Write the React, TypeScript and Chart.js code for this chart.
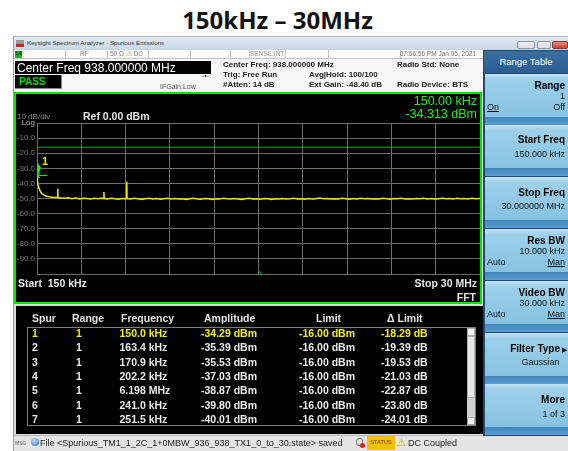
import React, { useEffect, useRef } from 'react';
import { Chart, registerables } from 'chart.js';
Chart.register(...registerables);

// ---------- data ----------
const startMHz = 0.15;
const stopMHz = 30;
const topDbm = 0;
const bottomDbm = -100;
const dbPerDiv = 10;
const xDivisions = 10;
const limitDbm = -16;
const markerFreqMHz = 0.15;
const markerDbm = -34.313;

const freqMHz = [
  0.15, 0.17, 0.2, 0.24, 0.3, 0.38, 0.48, 0.62, 0.8, 1.0, 1.2, 1.4, 1.53, 1.55, 1.57, 1.75,
  2.0, 2.25, 2.5, 2.75, 3.0, 3.25, 3.5, 3.75, 4.0, 4.25, 4.5, 4.64, 4.66, 4.68, 4.9, 5.15,
  5.4, 5.65, 5.9, 6.17, 6.198, 6.22, 6.45, 6.7, 6.95, 7.2, 7.45, 7.7, 7.95, 8.2, 8.45, 8.7,
  8.95, 9.2, 9.45, 9.7, 9.95, 10.2, 10.45, 10.7, 10.95, 11.2, 11.45, 11.7, 11.95, 12.2, 12.45, 12.7,
  12.95, 13.2, 13.45, 13.7, 13.95, 14.2, 14.45, 14.7, 14.95, 15.2, 15.45, 15.7, 15.95, 16.2, 16.45, 16.7,
  16.95, 17.2, 17.45, 17.7, 17.95, 18.2, 18.45, 18.7, 18.95, 19.2, 19.45, 19.7, 19.95, 20.2, 20.45, 20.7,
  20.95, 21.2, 21.45, 21.7, 21.95, 22.2, 22.45, 22.7, 22.95, 23.2, 23.45, 23.7, 23.95, 24.2, 24.45, 24.7,
  24.95, 25.2, 25.45, 25.7, 25.95, 26.2, 26.45, 26.7, 26.95, 27.2, 27.45, 27.7, 27.95, 28.2, 28.45, 28.7,
  28.95, 29.2, 29.45, 29.7, 30.0,
];
const levelDbm = [
  -34.3, -36.8, -39.2, -41.5, -43.6, -45.4, -46.8, -47.8, -48.5, -48.9, -49.2, -49.4, -49.3, -43.5, -49.5, -49.6,
  -49.8, -49.5, -50.1, -49.7, -50.3, -49.8, -50.0, -50.4, -49.9, -50.2, -49.8, -50.0, -45.7, -50.0, -50.3, -49.9,
  -50.2, -50.5, -50.0, -50.2, -38.9, -50.1, -50.4, -49.9, -50.2, -50.6, -50.1, -49.8, -50.3, -50.0, -50.5, -50.2,
  -49.9, -50.3, -50.0, -50.4, -50.1, -50.6, -50.2, -49.9, -50.3, -50.5, -50.0, -50.2, -50.6, -50.1, -50.3, -49.8,
  -50.2, -50.4, -50.0, -50.3, -50.6, -50.2, -49.9, -50.3, -50.1, -50.5, -50.0, -50.2, -50.6, -50.1, -50.3, -50.0,
  -50.4, -50.2, -49.8, -50.3, -50.1, -50.5, -50.0, -50.3, -50.1, -49.7, -50.2, -50.0, -50.4, -50.1, -50.3, -49.9,
  -50.2, -50.5, -50.0, -50.3, -49.8, -50.2, -50.0, -50.4, -50.1, -50.3, -49.9, -50.2, -50.5, -50.0, -50.2, -49.8,
  -50.3, -50.1, -50.4, -50.0, -50.2, -49.9, -50.3, -50.0, -50.4, -50.1, -49.8, -50.2, -50.0, -50.3, -49.9, -50.2,
  -50.0, -50.3, -49.9, -50.1, -50.0,
];

const spurNo = ['1', '2', '3', '4', '5', '6', '7'];
const spurRange = ['1', '1', '1', '1', '1', '1', '1'];
const spurFreq = ['150.0 kHz', '163.4 kHz', '170.9 kHz', '202.2 kHz', '6.198 MHz', '241.0 kHz', '251.5 kHz'];
const spurAmp = ['-34.29 dBm', '-35.39 dBm', '-35.53 dBm', '-37.03 dBm', '-38.87 dBm', '-39.80 dBm', '-40.01 dBm'];
const spurLimit = ['-16.00 dBm', '-16.00 dBm', '-16.00 dBm', '-16.00 dBm', '-16.00 dBm', '-16.00 dBm', '-16.00 dBm'];
const spurDelta = ['-18.29 dB', '-19.39 dB', '-19.53 dB', '-21.03 dB', '-22.87 dB', '-23.80 dB', '-24.01 dB'];
const tableHeaders = ['Spur', 'Range', 'Frequency', 'Amplitude', 'Limit', '\u0394 Limit'];

// ---------- layout helpers ----------
const W = 568;
const H = 451;
const FONT = '"Liberation Sans", Arial, sans-serif';

type TP = {
  x: number; y: number; s: number; c?: string; b?: boolean; a?: 'l' | 'r' | 'c';
  u?: boolean; f?: string; children?: any; z?: number;
};
const T = ({ x, y, s, c = '#000', b = false, a = 'l', u = false, f, children, z = 5 }: TP) => {
  const style: any = {
    position: 'absolute', top: y - s / 2, fontSize: s, lineHeight: s + 'px', color: c,
    fontWeight: b ? 'bold' : 'normal', whiteSpace: 'nowrap', fontFamily: f || FONT,
    textDecoration: u ? 'underline' : 'none', zIndex: z,
  };
  if (a === 'l') style.left = x;
  else if (a === 'r') style.right = W - x;
  else { style.left = x; style.transform = 'translateX(-50%)'; }
  return <div style={style}>{children}</div>;
};
const R = ({ x, y, w, h, bg, st }: { x: number; y: number; w: number; h: number; bg?: string; st?: any }) => (
  <div style={{ position: 'absolute', left: x, top: y, width: w, height: h, background: bg, boxSizing: 'border-box', ...(st || {}) }} />
);

const markerPlugin = {
  id: 'saMarker',
  afterDatasetsDraw(chart: any) {
    const { ctx, scales, chartArea } = chart;
    const px = scales.x.getPixelForValue(markerFreqMHz);
    const py = Math.round(scales.y.getPixelForValue(markerDbm)) + 0.5;
    ctx.save();
    ctx.strokeStyle = '#22dd22';
    ctx.lineWidth = 1;
    ctx.beginPath();
    ctx.moveTo(px, py); ctx.lineTo(px + 10, py);
    ctx.moveTo(px, py); ctx.lineTo(px + 3, py - 2.5);
    ctx.moveTo(px, py); ctx.lineTo(px + 3, py + 2.5);
    ctx.stroke();
    ctx.fillStyle = '#22e022';
    ctx.beginPath();
    ctx.moveTo(px, py - 14);
    ctx.lineTo(px + 4, py - 7.5);
    ctx.lineTo(px, py + 2);
    ctx.closePath();
    ctx.fill();
    ctx.fillStyle = '#e6e600';
    ctx.font = 'bold 11px ' + FONT;
    ctx.textBaseline = 'middle';
    ctx.fillText('1', px + 5, py - 14);
    // center indicator caret
    const cx = Math.round((chartArea.left + chartArea.right) / 2) + 0.5;
    ctx.strokeStyle = '#22c022';
    ctx.beginPath();
    ctx.moveTo(cx - 2.5, chartArea.bottom + 1);
    ctx.lineTo(cx, chartArea.bottom - 2.5);
    ctx.lineTo(cx + 2.5, chartArea.bottom + 1);
    ctx.stroke();
    ctx.restore();
  },
};

function Spectrum() {
  const ref = useRef<HTMLCanvasElement>(null);
  useEffect(() => {
    const canvas = ref.current!;
    const grid = '#6c6c6c';
    const chart = new Chart(canvas, {
      type: 'line',
      data: {
        datasets: [
          {
            data: freqMHz.map((f, i) => ({ x: f, y: levelDbm[i] })),
            borderColor: '#e8e800', borderWidth: 1.5, pointRadius: 0, tension: 0,
          },
          {
            data: [{ x: startMHz, y: limitDbm }, { x: stopMHz, y: limitDbm }],
            borderColor: '#22a622', borderWidth: 1, pointRadius: 0,
          },
        ],
      },
      options: {
        animation: false,
        responsive: false,
        maintainAspectRatio: false,
        layout: { padding: { left: 0, top: 29, right: 2, bottom: 29 } },
        plugins: { legend: { display: false }, tooltip: { enabled: false } },
        scales: {
          x: {
            type: 'linear', min: startMHz, max: stopMHz,
            afterBuildTicks: (s: any) => {
              s.ticks = Array.from({ length: xDivisions + 1 }, (_, i) => ({
                value: startMHz + ((stopMHz - startMHz) * i) / xDivisions,
              }));
            },
            afterFit: (s: any) => { s.height = 0; },
            ticks: { display: false },
            grid: { color: grid, drawTicks: false },
            border: { color: grid },
          },
          y: {
            min: bottomDbm, max: topDbm,
            afterFit: (s: any) => { s.width = 21; },
            ticks: {
              stepSize: dbPerDiv, padding: 2,
              color: (c: any) => (c.tick && c.tick.value === topDbm ? '#b8b8b8' : '#7c7c7c'),
              font: { size: 8, family: FONT },
              callback: (v: any) => (v === topDbm ? 'Log' : v === bottomDbm ? '' : Number(v).toFixed(1)),
            },
            grid: { color: grid, drawTicks: false },
            border: { color: grid },
          },
        },
      },
      plugins: [markerPlugin],
    } as any);
    return () => chart.destroy();
  }, []);
  return (
    <canvas
      ref={ref}
      width={466}
      height={209}
      style={{ position: 'absolute', left: 16, top: 94, width: 466, height: 209, zIndex: 2 }}
    />
  );
}

const keyTops = [73.5, 125.3, 177.1, 228.9, 280.7, 332.5, 384.3];

export default function App() {
  const colX = [32, 76, 119.5, 201, 299, 381];
  const headX = [32, 72, 121, 204, 316, 387];
  return (
    <div style={{ position: 'fixed', left: 0, top: 0, width: W, height: H, overflow: 'hidden', background: '#fff', fontFamily: FONT }}>
      {/* page title */}
      <T x={277.5} y={19.5} s={24} b a="c" c="#111" f='"Open Sans", "Noto Sans", sans-serif'>150kHz – 30MHz</T>

      {/* window */}
      <R x={13} y={36} w={555} h={415} bg="#dcdcdc" st={{ borderLeft: '1px solid #9a9a9a' }} />
      <R x={13} y={36} w={555} h={14} bg="linear-gradient(#e2ebf5,#c7d6e7)" st={{ borderLeft: '1px solid #9a9a9a', borderTop: '1px solid #a8b8c8' }} />
      <R x={16} y={40} w={8} h={7} bg="linear-gradient(#9a9a9a 0 55%, #d02020 55% 100%)" />
      <T x={27} y={43.5} s={6.2} c="#333">Keysight Spectrum Analyzer - Spurious Emissions</T>
      <R x={517} y={41} w={18} h={8} bg="linear-gradient(#f2f2f2,#d6dde6)" st={{ border: '1px solid #8896a8', borderRadius: 2 }} />
      <R x={537} y={41} w={14} h={8} bg="linear-gradient(#f2f2f2,#d6dde6)" st={{ border: '1px solid #8896a8', borderRadius: 2 }} />
      <R x={552} y={41} w={16} h={8} bg="linear-gradient(#e88a7a,#c8473a)" st={{ border: '1px solid #8a3a30', borderRadius: 2 }} />

      {/* status row */}
      <R x={14} y={50} w={469} h={9} bg="#fbfbfb" st={{ borderBottom: '1px solid #c4c4c4' }} />
      {[65, 107, 148, 190, 230, 249, 285, 328, 400].map((sx) => (
        <R key={sx} x={sx} y={50} w={1} h={9} bg="#c8c8c8" />
      ))}
      <R x={15} y={51} w={7} h={7} bg="#19b219" />
      <T x={15.5} y={54.5} s={4.5} c="#003300" b>LXI</T>
      <T x={80} y={54.5} s={6.5} c="#888">RF</T>
      <T x={110} y={54.5} s={6.5} c="#888">50 Ω <span style={{ color: '#c9a000' }}>⚠</span> DC</T>
      <T x={250} y={54.5} s={6.5} c="#999">SENSE:INT</T>
      <T x={476} y={54.5} s={6.5} c="#777" a="r">07:56:56 PM Jan 05, 2021</T>

      {/* info area */}
      <R x={14} y={59} w={469} h={33} bg="#f7f7f7" />
      <R x={15} y={61} w={196} h={13} bg="#000" />
      <T x={17} y={67.5} s={12} c="#fff">Center Freq 938.000000 MHz</T>
      <R x={15} y={75} w={47} h={14} bg="#000" st={{ borderRight: '1px solid #888', borderBottom: '1px solid #888' }} />
      <T x={19} y={82} s={10} b c="#00dd00">PASS</T>
      <T x={160} y={86} s={7} c="#555">IFGain:Low</T>
      <T x={202} y={75.5} s={7} c="#333">-•-</T>
      <T x={223} y={65} s={8} b c="#222">Center Freq: 938.000000 MHz</T>
      <T x={223} y={75} s={8} b c="#222">Trig: Free Run</T>
      <T x={223} y={84.5} s={8} b c="#222">#Atten: 14 dB</T>
      <T x={309} y={75} s={8} b c="#222">Avg|Hold: 100/100</T>
      <T x={309} y={84.5} s={8} b c="#222">Ext Gain: -48.40 dB</T>
      <T x={397} y={65} s={8} b c="#222">Radio Std: None</T>
      <T x={397} y={84.5} s={8} b c="#222">Radio Device: BTS</T>

      {/* plot panel */}
      <R x={14} y={92} w={468} h={212} bg="#000" />
      <Spectrum />
      <div style={{ position: 'absolute', left: 14, top: 92, width: 468, height: 212, border: '2px solid #00e600', boxSizing: 'border-box', zIndex: 3 }} />
      <T x={17} y={117} s={8} c="#8a8a8a">10 dB/div</T>
      <T x={83} y={116} s={10.5} b c="#e6e6e6">Ref 0.00 dBm</T>
      <T x={477} y={101.5} s={12.5} c="#22ee22" a="r">150.00 kHz</T>
      <T x={477} y={114} s={12.5} c="#22ee22" a="r">-34.313 dBm</T>
      <T x={18} y={283} s={10.5} b c="#e6e6e6">Start&nbsp;&nbsp;150 kHz</T>
      <T x={477} y={283} s={10.5} b c="#e6e6e6" a="r">Stop 30 MHz</T>
      <T x={476} y={297} s={10.5} b c="#e6e6e6" a="r">FFT</T>

      {/* spur table */}
      <R x={16} y={306} w={467} h={128} bg="#000" />
      {tableHeaders.map((h, i) => (
        <T key={h} x={headX[i]} y={318} s={10.5} b c="#e4e4e4">{h}</T>
      ))}
      <R x={27} y={326.5} w={449} h={99} st={{ border: '1px solid #7c7c7c' }} />
      <R x={467} y={327.5} w={8} h={97} bg="#cfcfcf" />
      <R x={467} y={327.5} w={8} h={8} bg="#f2f2f2" st={{ border: '1px solid #aaa' }} />
      <R x={467} y={416.5} w={8} h={8} bg="#f2f2f2" st={{ border: '1px solid #aaa' }} />
      <R x={467} y={336} w={8} h={62} bg="#e6e6e6" st={{ border: '1px solid #b4b4b4' }} />
      {spurNo.map((n, i) => {
        const y = 333.3 + i * 14.33;
        const c = i === 0 ? '#f4f400' : '#ececec';
        const vals = [n, spurRange[i], spurFreq[i], spurAmp[i], spurLimit[i], spurDelta[i]];
        return vals.map((v, j) => (
          <T key={i + '-' + j} x={colX[j]} y={y} s={10.5} b c={c}>{v}</T>
        ));
      })}

      {/* bottom status bar */}
      <R x={14} y={435} w={554} h={16} bg="#e4e4e4" st={{ borderTop: '1px solid #b8b8b8' }} />
      <T x={15} y={443} s={5} c="#666">MSG</T>
      <div style={{ position: 'absolute', left: 31, top: 438, width: 8, height: 8, borderRadius: 4, background: 'radial-gradient(circle at 40% 35%, #bfe0ff, #2f6fc0)', zIndex: 5 }} />
      <T x={40} y={443} s={9} c="#222">File &lt;Spurious_TM1_1_2C_1+0MBW_936_938_TX1_0_to_30.state&gt; saved</T>
      <div style={{ position: 'absolute', left: 356, top: 438, width: 7, height: 8, border: '1px solid #777', borderRadius: 3, boxSizing: 'border-box', zIndex: 5 }} />
      <div style={{ position: 'absolute', left: 360, top: 443, width: 5, height: 5, borderRadius: 3, background: '#e02020', zIndex: 6 }} />
      <R x={367} y={436} w={28} h={14} bg="#f2c200" />
      <T x={381} y={443} s={5.5} b c="#a05a00" a="c">STATUS</T>
      <T x={397} y={443} s={10} c="#e0b000">⚠</T>
      <T x={408} y={443} s={9} c="#222">DC Coupled</T>

      {/* right softkey panel */}
      <R x={483} y={50} w={85} h={386} bg="#1d4a78" />
      <R x={484} y={51} w={84} h={22} bg="linear-gradient(#3a6fa2,#2b5c8e)" />
      <T x={526} y={62} s={9.5} c="#fff" a="c">Range Table</T>
      {keyTops.map((t, i) => (
        <React.Fragment key={i}>
          <R x={485} y={t} w={83} h={43} bg="linear-gradient(#c4e4f4 0%, #9ed0ea 12%, #86c2e2 100%)" />
          <R x={485} y={t + 43} w={83} h={8} bg="linear-gradient(#3f85bd,#5a9ccd)" />
        </React.Fragment>
      ))}
      {/* key 1 */}
      <T x={565} y={keyTops[0] + 12.5} s={10} b a="r">Range</T>
      <T x={565} y={keyTops[0] + 23} s={9} a="r" c="#111">1</T>
      <T x={487} y={keyTops[0] + 33.5} s={9} u c="#111">On</T>
      <T x={565} y={keyTops[0] + 33.5} s={9} a="r" c="#111">Off</T>
      {/* key 2 */}
      <T x={565} y={keyTops[1] + 14.5} s={10} b a="r">Start Freq</T>
      <T x={565} y={keyTops[1] + 29.5} s={9} a="r" c="#111">150.000 kHz</T>
      {/* key 3 */}
      <T x={565} y={keyTops[2] + 15.5} s={10} b a="r">Stop Freq</T>
      <T x={565} y={keyTops[2] + 29.5} s={9} a="r" c="#111">30.000000 MHz</T>
      {/* key 4 */}
      <T x={565} y={keyTops[3] + 12.5} s={10} b a="r">Res BW</T>
      <T x={565} y={keyTops[3] + 22.5} s={9} a="r" c="#111">10.000 kHz</T>
      <T x={487} y={keyTops[3] + 33.5} s={9} c="#111">Auto</T>
      <T x={565} y={keyTops[3] + 33.5} s={9} a="r" u c="#111">Man</T>
      {/* key 5 */}
      <T x={565} y={keyTops[4] + 12.5} s={10} b a="r">Video BW</T>
      <T x={565} y={keyTops[4] + 22.5} s={9} a="r" c="#111">30.000 kHz</T>
      <T x={487} y={keyTops[4] + 33.5} s={9} c="#111">Auto</T>
      <T x={565} y={keyTops[4] + 33.5} s={9} a="r" u c="#111">Man</T>
      {/* key 6 */}
      <T x={560} y={keyTops[5] + 16} s={10} b a="r">Filter Type</T>
      <T x={567} y={keyTops[5] + 17} s={7} a="r" c="#111">▶</T>
      <T x={559.5} y={keyTops[5] + 29.5} s={9} a="r" c="#111">Gaussian</T>
      {/* key 7 */}
      <T x={565} y={keyTops[6] + 15.5} s={10} b a="r">More</T>
      <T x={565} y={keyTops[6] + 30} s={9} a="r" c="#111">1 of 3</T>
    </div>
  );
}
